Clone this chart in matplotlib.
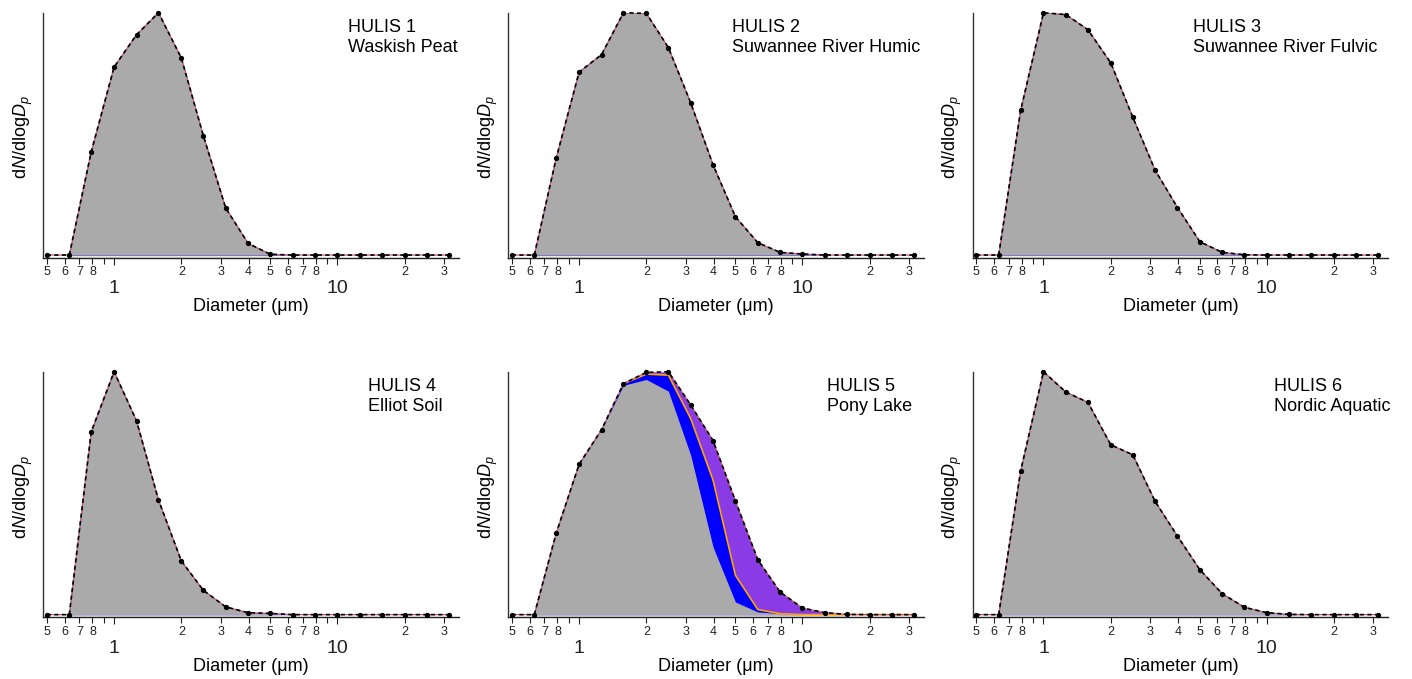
import matplotlib
matplotlib.use("Agg")
import matplotlib.pyplot as plt
from matplotlib.ticker import FixedLocator, FixedFormatter

plt.rcParams['font.family'] = ['Liberation Sans', 'DejaVu Sans']
plt.rcParams['mathtext.fontset'] = 'custom'
plt.rcParams['mathtext.rm'] = 'Liberation Sans'
plt.rcParams['mathtext.it'] = 'Liberation Sans:italic'

# ---- data ----
diameters = [0.5, 0.63, 0.79, 1.0, 1.26, 1.58, 2.0, 2.51, 3.16, 3.98, 5.01,
             6.31, 7.94, 10.0, 12.6, 15.8, 20.0, 25.1, 31.6]

hulis1 = [0, 0, 0.426, 0.776, 0.909, 1.0, 0.813, 0.492, 0.194, 0.048, 0.003,
          0, 0, 0, 0, 0, 0, 0, 0]
hulis2 = [0, 0, 0.401, 0.755, 0.827, 1.0, 0.997, 0.856, 0.628, 0.372, 0.158,
          0.051, 0.011, 0.004, 0, 0, 0, 0, 0]
hulis3 = [0, 0, 0.597, 1.0, 0.992, 0.930, 0.793, 0.569, 0.350, 0.196, 0.055,
          0.011, 0.001, 0, 0, 0, 0, 0, 0]
hulis4 = [0, 0, 0.753, 1.0, 0.798, 0.472, 0.221, 0.100, 0.032, 0.008, 0.005,
          0, 0, 0, 0, 0, 0, 0, 0]
hulis5_total = [0, 0, 0.336, 0.619, 0.761, 0.951, 0.997, 1.0, 0.863, 0.716, 0.468,
                0.226, 0.093, 0.027, 0.008, 0.001, 0, 0, 0]
hulis5_mid = [0, 0, 0.336, 0.619, 0.761, 0.951, 0.990, 0.986, 0.807, 0.553, 0.162,
              0.021, 0.004, 0, 0, 0, 0, 0, 0]
hulis5_base = [0, 0, 0.336, 0.619, 0.761, 0.944, 0.968, 0.920, 0.656, 0.278, 0.052,
               0.011, 0.004, 0, 0, 0, 0, 0, 0]
hulis6 = [0, 0, 0.592, 1.0, 0.916, 0.874, 0.699, 0.658, 0.466, 0.323, 0.185,
          0.086, 0.030, 0.008, 0.001, 0, 0, 0, 0]

panel_titles = [("HULIS 1", "Waskish Peat"),
                ("HULIS 2", "Suwannee River Humic"),
                ("HULIS 3", "Suwannee River Fulvic"),
                ("HULIS 4", "Elliot Soil"),
                ("HULIS 5", "Pony Lake"),
                ("HULIS 6", "Nordic Aquatic")]
panel_series = [(hulis1, hulis1, hulis1),
                (hulis2, hulis2, hulis2),
                (hulis3, hulis3, hulis3),
                (hulis4, hulis4, hulis4),
                (hulis5_total, hulis5_mid, hulis5_base),
                (hulis6, hulis6, hulis6)]

major_ticks = [1, 10]
major_labels = ["1", "10"]
minor_ticks = [0.5, 0.6, 0.7, 0.8, 0.9, 2, 3, 4, 5, 6, 7, 8, 9, 20, 30]
minor_labels = ["5", "6", "7", "8", "", "2", "3", "4", "5", "6", "7", "8", "", "2", "3"]

# ---- layout ----
W, H = 1412, 679
fig = plt.figure(figsize=(W / 100, H / 100), dpi=100)
lefts = [43.3, 508.3, 972.7]
width = 415.7
rows = [(257.7, 245.0), (617.3, 245.6)]
title_x = [0.733, 0.537, 0.531, 0.782, 0.767, 0.726]

purple = '#8a3be6'
blue = '#0000ff'
orange = '#ffa500'
gray = '#aaaaaa'

for i in range(6):
    r, c = divmod(i, 3)
    bottom_px, h_px = rows[r]
    ax = fig.add_axes([lefts[c] / W, 1 - bottom_px / H, width / W, h_px / H])
    total, mid, base = panel_series[i]
    ylo = -0.011
    ax.fill_between(diameters, ylo, 0, where=[t > 0 or j == 1 for j, t in enumerate(total)],
                    color='#e4e4e4', lw=0)
    ax.fill_between(diameters, 0, total, color=purple, lw=0)
    ax.fill_between(diameters, 0, mid, color=blue, lw=0)
    ax.fill_between(diameters, 0, base, color=gray, lw=0)
    if i == 4:
        diff_idx = [j for j in range(len(mid)) if mid[j] != total[j]]
        j0 = max(diff_idx[0] - 1, 0)
        ax.plot(diameters[j0:], mid[j0:], color=orange, lw=1.2)
    ax.plot(diameters, total, color='#c06078', lw=0.9)
    ax.plot(diameters, total, color='black', lw=1.2, ls=(0, (2.5, 2)),
            marker='o', ms=2.8, clip_on=False, zorder=5)

    ax.set_xscale('log')
    ax.set_xlim(0.482, 35.0)
    ax.set_ylim(ylo, 1.0)
    for s in ('top', 'right'):
        ax.spines[s].set_visible(False)
    ax.spines['left'].set_color('#333333')
    ax.spines['bottom'].set_color('#222222')
    ax.spines['left'].set_linewidth(1.0)
    ax.spines['bottom'].set_linewidth(1.0)
    ax.set_yticks([])

    ax.xaxis.set_major_locator(FixedLocator(major_ticks))
    ax.xaxis.set_major_formatter(FixedFormatter(major_labels))
    ax.xaxis.set_minor_locator(FixedLocator(minor_ticks))
    ax.xaxis.set_minor_formatter(FixedFormatter(minor_labels))
    ax.tick_params(axis='x', which='major', length=5, width=0.8, pad=11,
                   labelsize=14, colors='#222222')
    ax.tick_params(axis='x', which='minor', length=4.5, width=0.8, pad=1.5,
                   labelsize=9, colors='#222222')

    ax.text(0.5, -0.2, "Diameter (\u03bcm)", transform=ax.transAxes,
            ha='center', va='center', fontsize=13)
    ax.text(-0.049, 0.49, r'd$N$/dlog$D_p$', transform=ax.transAxes,
            ha='center', va='center', rotation=90, fontsize=13)
    t1, t2 = panel_titles[i]
    ax.text(title_x[i], 0.92, t1, transform=ax.transAxes, ha='left',
            va='baseline', fontsize=13)
    ax.text(title_x[i], 0.84, t2, transform=ax.transAxes, ha='left',
            va='baseline', fontsize=13)

fig.savefig('out.png', dpi=100)
